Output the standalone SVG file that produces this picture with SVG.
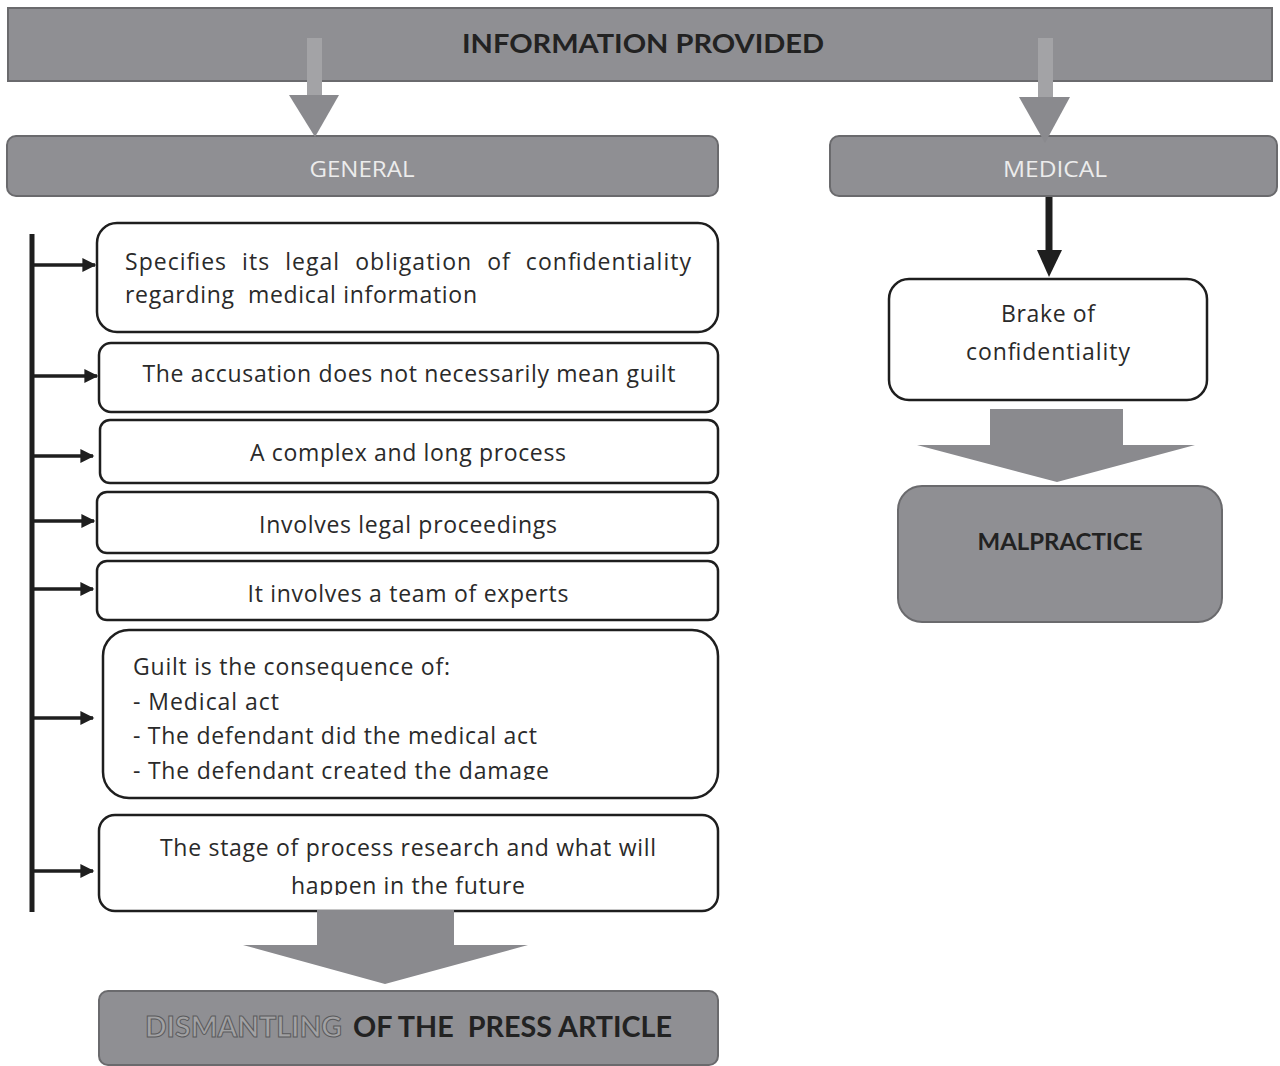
<svg xmlns="http://www.w3.org/2000/svg" width="1280" height="1066" viewBox="0 0 1280 1066">
<style>
.gbox{fill:#8f8f93;stroke:#6a6a6d;stroke-width:2}
.wbox{fill:#ffffff;stroke:#1e1e1e;stroke-width:2.5}
.garrow{fill:#8a8a8e}
.t{font-family:"Open Sans",Lato,"Liberation Sans",sans-serif;font-size:23px;fill:#2a2a2a}
.c{text-anchor:middle}
.hd{font-family:Lato,"Open Sans","Liberation Sans",sans-serif;font-weight:bold;fill:#222}
.lt{font-family:"Open Sans",Lato,"Liberation Sans",sans-serif;font-size:22px;fill:#ececec;text-anchor:middle}
.conn{stroke:#1e1e1e;stroke-width:3.5;fill:none}
</style>
<defs>
<marker id="ah" viewBox="0 0 10 10" refX="9" refY="5" markerWidth="4.2" markerHeight="4" orient="auto" markerUnits="strokeWidth">
<path d="M0,0 L10,5 L0,10 z" fill="#1e1e1e"/>
</marker>
<clipPath id="clip6"><rect x="100" y="620" width="620" height="160"/></clipPath>
<clipPath id="clip7"><rect x="100" y="810" width="620" height="85"/></clipPath>
</defs>
<rect width="1280" height="1066" fill="#ffffff"/>

<g id="info-provided">
<rect class="gbox" x="8" y="8" width="1264" height="73"/>
<text class="hd c" x="643" y="53" font-size="26" textLength="362" lengthAdjust="spacingAndGlyphs">INFORMATION PROVIDED</text>
</g>

<g id="general">
<rect class="gbox" x="7" y="136" width="711" height="60" rx="9"/>
<text class="lt" x="362" y="177" textLength="105" lengthAdjust="spacingAndGlyphs">GENERAL</text>
</g>

<g id="medical">
<rect class="gbox" x="830" y="136" width="447" height="60" rx="9"/>
<text class="lt" x="1055" y="177" textLength="104" lengthAdjust="spacingAndGlyphs">MEDICAL</text>
</g>

<g id="n1">
<rect class="wbox" x="97" y="223" width="621" height="109" rx="20"/>
<text class="t" x="125" y="270" word-spacing="8" textLength="566" lengthAdjust="spacing">Specifies its legal obligation of confidentiality</text>
<text class="t" x="125" y="303" textLength="352" lengthAdjust="spacing" xml:space="preserve">regarding  medical information</text>
</g>

<g id="n2">
<rect class="wbox" x="99" y="343" width="619" height="69" rx="12"/>
<text class="t c" x="409" y="382" textLength="533" lengthAdjust="spacing">The accusation does not necessarily mean guilt</text>
</g>

<g id="n3">
<rect class="wbox" x="100" y="420" width="618" height="63" rx="10"/>
<text class="t c" x="408" y="461" textLength="316" lengthAdjust="spacing">A complex and long process</text>
</g>

<g id="n4">
<rect class="wbox" x="97" y="492" width="621" height="61" rx="10"/>
<text class="t c" x="408" y="533" textLength="298" lengthAdjust="spacing">Involves legal proceedings</text>
</g>

<g id="n5">
<rect class="wbox" x="97" y="561" width="621" height="59" rx="10"/>
<text class="t c" x="408" y="602" textLength="321" lengthAdjust="spacing">It involves a team of experts</text>
</g>

<g id="n6">
<rect class="wbox" x="103" y="630" width="615" height="168" rx="26"/>
<g clip-path="url(#clip6)">
<text class="t" x="133" y="675" textLength="317" lengthAdjust="spacing">Guilt is the consequence of:</text>
<text class="t" x="133" y="710" textLength="146" lengthAdjust="spacing">- Medical act</text>
<text class="t" x="133" y="744" textLength="404" lengthAdjust="spacing">- The defendant did the medical act</text>
<text class="t" x="133" y="779" textLength="416" lengthAdjust="spacing">- The defendant created the damage</text>
</g>
</g>

<g id="n7">
<rect class="wbox" x="99" y="815" width="619" height="96" rx="16"/>
<g clip-path="url(#clip7)">
<text class="t c" x="408" y="856" textLength="496" lengthAdjust="spacing">The stage of process research and what will</text>
<text class="t c" x="408" y="894" textLength="234" lengthAdjust="spacing">happen in the future</text>
</g>
</g>

<g id="dismantling">
<rect class="gbox" x="99" y="991" width="619" height="74" rx="9"/>
<text x="145" y="1037" font-family="Lato,'Open Sans','Liberation Sans',sans-serif" font-weight="bold" font-size="29" fill="#a2a2a4" stroke="#5a5a5c" stroke-width="1" textLength="197" lengthAdjust="spacingAndGlyphs">DISMANTLING</text>
<text class="hd" x="353" y="1037" font-size="29" textLength="319" lengthAdjust="spacingAndGlyphs" xml:space="preserve">OF THE  PRESS ARTICLE</text>
</g>

<g id="brake">
<rect class="wbox" x="889" y="279" width="318" height="121" rx="20"/>
<text class="t c" x="1048" y="322" textLength="94" lengthAdjust="spacing">Brake of</text>
<text class="t c" x="1048" y="360" textLength="164" lengthAdjust="spacing">confidentiality</text>
</g>

<g id="malpractice">
<rect class="gbox" x="898" y="486" width="324" height="136" rx="24"/>
<text class="hd c" x="1060" y="550" font-size="23" textLength="165" lengthAdjust="spacingAndGlyphs">MALPRACTICE</text>
</g>

<g id="connectors">
<rect x="307" y="38" width="15" height="58" fill="#a3a3a6"/>
<polygon class="garrow" points="289,95 339,95 315,137"/>
<rect x="1038" y="38" width="15" height="60" fill="#a3a3a6"/>
<polygon class="garrow" points="1019,97 1070,97 1045,143"/>
<line x1="1049" y1="197" x2="1049" y2="252" stroke="#1e1e1e" stroke-width="7"/>
<polygon points="1037,250 1062,250 1049,277" fill="#1e1e1e"/>
<polygon class="garrow" points="990,409 1123,409 1123,445 1195,445 1057,482 917,445 990,445"/>
<polygon class="garrow" points="317,910 454,910 454,945 528,945 385,984 243,945 317,945"/>
<line x1="32" y1="234" x2="32" y2="912" stroke="#1e1e1e" stroke-width="5"/>
<line class="conn" x1="33" y1="265" x2="95" y2="265" marker-end="url(#ah)"/>
<line class="conn" x1="33" y1="376" x2="97" y2="376" marker-end="url(#ah)"/>
<line class="conn" x1="33" y1="456" x2="93" y2="456" marker-end="url(#ah)"/>
<line class="conn" x1="33" y1="521" x2="94" y2="521" marker-end="url(#ah)"/>
<line class="conn" x1="33" y1="589" x2="93" y2="589" marker-end="url(#ah)"/>
<line class="conn" x1="33" y1="718" x2="93" y2="718" marker-end="url(#ah)"/>
<line class="conn" x1="33" y1="871" x2="93" y2="871" marker-end="url(#ah)"/>
</g>
</svg>
